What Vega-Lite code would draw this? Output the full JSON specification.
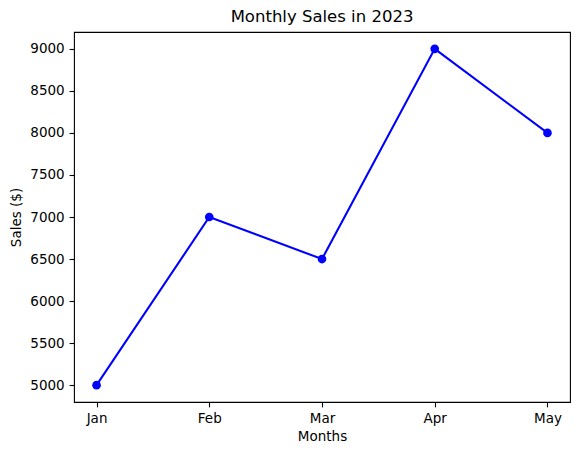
{
  "$schema": "https://vega.github.io/schema/vega-lite/v6.json",
  "width": 496,
  "height": 370,
  "autosize": {"type": "none"},
  "padding": {"left": 74, "top": 32, "right": 10, "bottom": 53},
  "background": "white",
  "config": {
    "font": "DejaVu Sans",
    "view": {"stroke": "black", "strokeWidth": 1.1},
    "axis": {
      "domain": false,
      "grid": false,
      "tickColor": "black",
      "tickSize": 4.9,
      "tickWidth": 1.1,
      "labelColor": "black",
      "labelFont": "DejaVu Sans",
      "labelFontSize": 13.5,
      "labelPadding": 4.9,
      "titleFont": "DejaVu Sans",
      "titleFontSize": 13.5,
      "titleFontWeight": "normal",
      "titleColor": "black"
    },
    "title": {"font": "DejaVu Sans", "fontSize": 16.5, "fontWeight": "normal", "color": "black", "offset": 7}
  },
  "title": {"text": "Monthly Sales in 2023", "anchor": "middle"},
  "data": {
    "values": [
      {"month": "Jan", "sales": 5000},
      {"month": "Feb", "sales": 7000},
      {"month": "Mar", "sales": 6500},
      {"month": "Apr", "sales": 9000},
      {"month": "May", "sales": 8000}
    ]
  },
  "encoding": {
    "x": {
      "field": "month", "type": "ordinal", "sort": null,
      "scale": {"type": "point", "padding": 0.2},
      "axis": {"title": "Months", "labelAngle": 0, "titlePadding": 4}
    },
    "y": {
      "field": "sales", "type": "quantitative",
      "scale": {"domain": [4800, 9200], "nice": false, "zero": false},
      "axis": {"title": "Sales ($)", "format": "d", "values": [5000, 5500, 6000, 6500, 7000, 7500, 8000, 8500, 9000], "titlePadding": 6}
    }
  },
  "layer": [
    {"mark": {"type": "line", "color": "#0000ff", "strokeWidth": 2.08}},
    {"mark": {"type": "point", "filled": true, "color": "#0000ff", "opacity": 1, "size": 75}}
  ]
}
